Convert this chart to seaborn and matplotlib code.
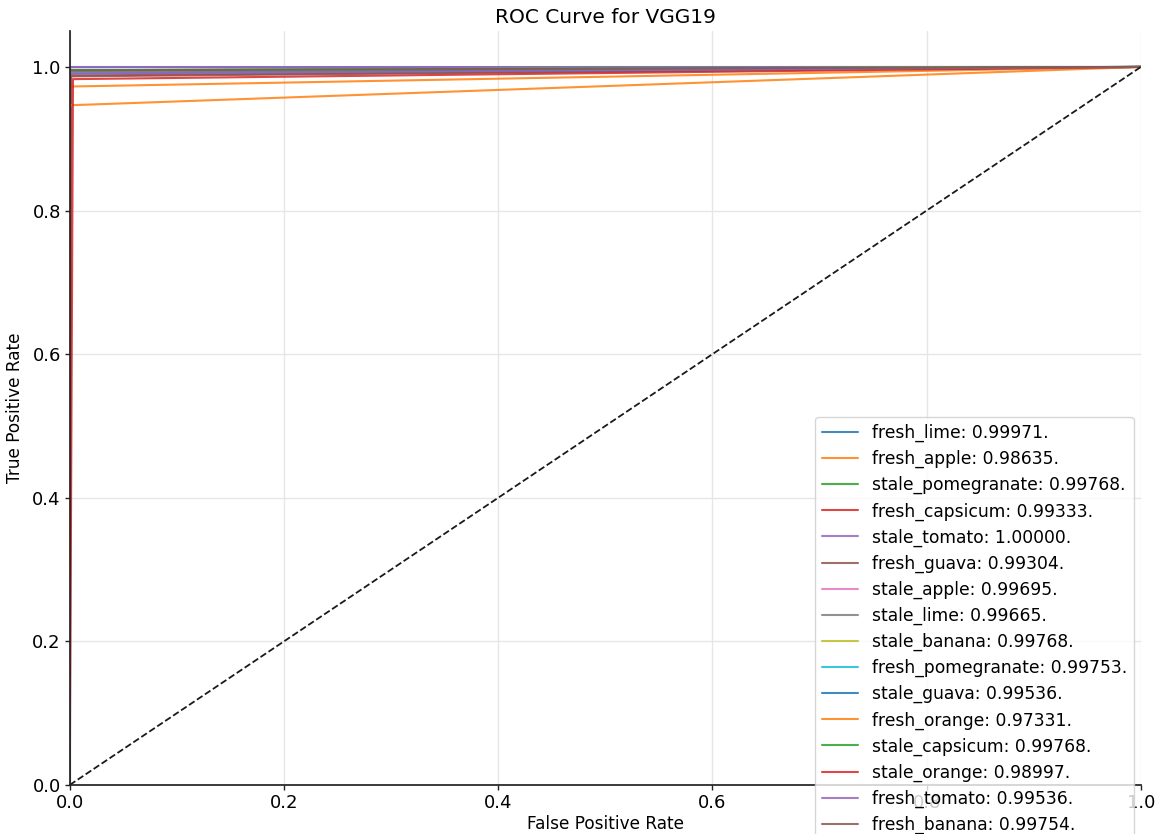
import pandas as pd
import matplotlib.pyplot as plt
import seaborn as sns

classes = ['fresh_lime', 'fresh_apple', 'stale_pomegranate', 'fresh_capsicum',
           'stale_tomato', 'fresh_guava', 'stale_apple', 'stale_lime',
           'stale_banana', 'fresh_pomegranate', 'stale_guava', 'fresh_orange',
           'stale_capsicum', 'stale_orange', 'fresh_tomato', 'fresh_banana']
auc = ['0.99971', '0.98635', '0.99768', '0.99333', '1.00000', '0.99304',
       '0.99695', '0.99665', '0.99768', '0.99753', '0.99536', '0.97331',
       '0.99768', '0.98997', '0.99536', '0.99754']
# operating point of each curve
fpr = [0.0002, 0.0, 0.0, 0.0013, 0.0, 0.0007, 0.0, 0.0, 0.0,
       0.0, 0.0, 0.0, 0.0, 0.003, 0.0, 0.0]
tpr = [0.9996, 0.9727, 0.9954, 0.9880, 1.0, 0.9868, 0.9939, 0.9933, 0.9954,
       0.9951, 0.9907, 0.9466, 0.9954, 0.9830, 0.9907, 0.9951]

rows = []
for c, a, f, t in zip(classes, auc, fpr, tpr):
    lab = f'{c}: {a}.'
    for x, y in [(0.0, 0.0), (f, t), (1.0, 1.0)]:
        rows.append({'fpr': x, 'tpr': y, 'label': lab})
df = pd.DataFrame(rows)

sns.set_theme(style='whitegrid', rc={'grid.color': '#e6e6e6', 'axes.edgecolor': '#222222',
                                     'xtick.bottom': True, 'ytick.left': True,
                                     'text.color': 'black', 'axes.labelcolor': 'black',
                                     'xtick.color': 'black', 'ytick.color': 'black'})
plt.rcParams['font.family'] = ['DejaVu Sans']

fig = plt.figure(figsize=(11.63, 8.34), dpi=100)
ax = fig.add_axes([0.060, 0.0588, 0.921, 0.904])
sns.lineplot(data=df, x='fpr', y='tpr', hue='label', palette=sns.color_palette('tab10', 16),
             sort=False, estimator=None, linewidth=1.5, alpha=0.85, ax=ax)
ax.plot([0, 1], [0, 1], 'k--', linewidth=1.3)
ax.set_xlim(0, 1.0)
ax.set_ylim(0, 1.05)
ax.set_xlabel('False Positive Rate', fontsize=12.2, labelpad=2)
ax.set_ylabel('True Positive Rate', fontsize=12.2, labelpad=6)
ax.set_title('ROC Curve for VGG19', fontsize=14.5, pad=6)
ax.tick_params(labelsize=13, length=3.5, width=1, color='#222222', pad=3)
sns.despine(ax=ax)
ax.legend(loc='upper right', bbox_to_anchor=(1.0014, 0.4993), fontsize=12.3,
          frameon=True, labelspacing=0.46, handlelength=2.1, borderpad=0.4)
fig.savefig('out.png', dpi=100)
